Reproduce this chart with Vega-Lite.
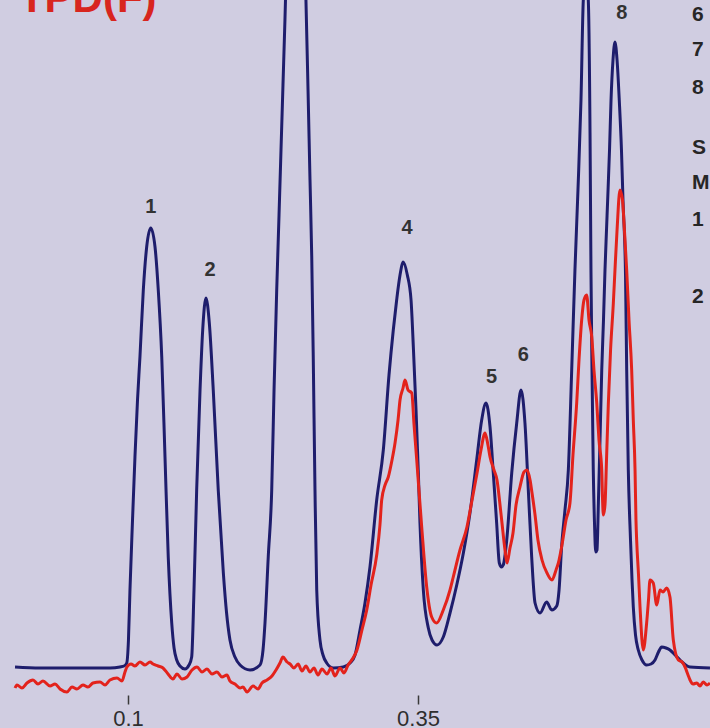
{
  "$schema": "https://vega.github.io/schema/vega-lite/v6.json",
  "width": 710,
  "height": 695,
  "autosize": {"type": "pad"},
  "padding": 0,
  "background": "#d0cde1",
  "config": {"view": {"stroke": null}},
  "datasets": {
    "traces": [
      {"trace":"UV","t":0.0026,"v":1},{"trace":"UV","t":0.0241,"v":0},{"trace":"UV","t":0.0586,"v":0},{"trace":"UV","t":0.0845,"v":0},{"trace":"UV","t":0.0931,"v":1},{"trace":"UV","t":0.0966,"v":2},{"trace":"UV","t":0.0989,"v":5},{"trace":"UV","t":0.1004,"v":28},{"trace":"UV","t":0.1017,"v":78},{"trace":"UV","t":0.1039,"v":148},{"trace":"UV","t":0.1060,"v":211},{"trace":"UV","t":0.1082,"v":268},{"trace":"UV","t":0.1103,"v":311},{"trace":"UV","t":0.1132,"v":378},{"trace":"UV","t":0.1161,"v":421},{"trace":"UV","t":0.1196,"v":440},{"trace":"UV","t":0.1233,"v":421},{"trace":"UV","t":0.1261,"v":378},{"trace":"UV","t":0.1291,"v":311},{"trace":"UV","t":0.1319,"v":211},{"trace":"UV","t":0.1347,"v":111},{"trace":"UV","t":0.1377,"v":45},{"trace":"UV","t":0.1397,"v":20},{"trace":"UV","t":0.1420,"v":8},{"trace":"UV","t":0.1448,"v":2},{"trace":"UV","t":0.1491,"v":-1},{"trace":"UV","t":0.1526,"v":3},{"trace":"UV","t":0.1549,"v":11},{"trace":"UV","t":0.1569,"v":78},{"trace":"UV","t":0.1592,"v":178},{"trace":"UV","t":0.1621,"v":278},{"trace":"UV","t":0.1644,"v":338},{"trace":"UV","t":0.1672,"v":370},{"trace":"UV","t":0.1701,"v":345},{"trace":"UV","t":0.1735,"v":278},{"trace":"UV","t":0.1778,"v":178},{"trace":"UV","t":0.1822,"v":95},{"trace":"UV","t":0.1849,"v":56},{"trace":"UV","t":0.1879,"v":28},{"trace":"UV","t":0.1922,"v":11},{"trace":"UV","t":0.1966,"v":3},{"trace":"UV","t":0.2052,"v":-2},{"trace":"UV","t":0.2138,"v":3},{"trace":"UV","t":0.2164,"v":18},{"trace":"UV","t":0.2181,"v":45},{"trace":"UV","t":0.2209,"v":111},{"trace":"UV","t":0.2239,"v":178},{"trace":"UV","t":0.2259,"v":278},{"trace":"UV","t":0.2282,"v":378},{"trace":"UV","t":0.2302,"v":453},{"trace":"UV","t":0.2319,"v":518},{"trace":"UV","t":0.2336,"v":583},{"trace":"UV","t":0.2353,"v":648},{"trace":"UV","t":0.2379,"v":758},{"trace":"UV","t":0.2448,"v":888},{"trace":"UV","t":0.2508,"v":768},{"trace":"UV","t":0.2534,"v":668},{"trace":"UV","t":0.2552,"v":578},{"trace":"UV","t":0.2569,"v":488},{"trace":"UV","t":0.2584,"v":411},{"trace":"UV","t":0.2597,"v":311},{"trace":"UV","t":0.2612,"v":178},{"trace":"UV","t":0.2627,"v":78},{"trace":"UV","t":0.2655,"v":28},{"trace":"UV","t":0.2681,"v":13},{"trace":"UV","t":0.2713,"v":5},{"trace":"UV","t":0.2770,"v":0},{"trace":"UV","t":0.2856,"v":1},{"trace":"UV","t":0.2914,"v":5},{"trace":"UV","t":0.2957,"v":13},{"trace":"UV","t":0.3000,"v":38},{"trace":"UV","t":0.3043,"v":65},{"trace":"UV","t":0.3086,"v":101},{"trace":"UV","t":0.3144,"v":168},{"trace":"UV","t":0.3201,"v":218},{"trace":"UV","t":0.3250,"v":293},{"trace":"UV","t":0.3287,"v":338},{"trace":"UV","t":0.3316,"v":368},{"trace":"UV","t":0.3345,"v":393},{"trace":"UV","t":0.3373,"v":406},{"trace":"UV","t":0.3408,"v":393},{"trace":"UV","t":0.3440,"v":368},{"trace":"UV","t":0.3461,"v":318},{"trace":"UV","t":0.3483,"v":258},{"trace":"UV","t":0.3503,"v":195},{"trace":"UV","t":0.3517,"v":145},{"trace":"UV","t":0.3546,"v":78},{"trace":"UV","t":0.3589,"v":40},{"trace":"UV","t":0.3621,"v":28},{"trace":"UV","t":0.3664,"v":23},{"trace":"UV","t":0.3718,"v":31},{"trace":"UV","t":0.3776,"v":55},{"trace":"UV","t":0.3834,"v":83},{"trace":"UV","t":0.3891,"v":115},{"trace":"UV","t":0.3948,"v":155},{"trace":"UV","t":0.4006,"v":208},{"trace":"UV","t":0.4049,"v":248},{"trace":"UV","t":0.4086,"v":265},{"trace":"UV","t":0.4121,"v":241},{"trace":"UV","t":0.4149,"v":195},{"trace":"UV","t":0.4178,"v":145},{"trace":"UV","t":0.4201,"v":105},{"trace":"UV","t":0.4220,"v":101},{"trace":"UV","t":0.4235,"v":103},{"trace":"UV","t":0.4265,"v":128},{"trace":"UV","t":0.4308,"v":195},{"trace":"UV","t":0.4351,"v":245},{"trace":"UV","t":0.4388,"v":278},{"trace":"UV","t":0.4422,"v":245},{"trace":"UV","t":0.4451,"v":178},{"trace":"UV","t":0.4480,"v":111},{"trace":"UV","t":0.4509,"v":65},{"trace":"UV","t":0.4552,"v":55},{"trace":"UV","t":0.4609,"v":66},{"trace":"UV","t":0.4653,"v":58},{"trace":"UV","t":0.4696,"v":62},{"trace":"UV","t":0.4716,"v":78},{"trace":"UV","t":0.4739,"v":123},{"trace":"UV","t":0.4767,"v":158},{"trace":"UV","t":0.4796,"v":198},{"trace":"UV","t":0.4825,"v":298},{"trace":"UV","t":0.4853,"v":398},{"trace":"UV","t":0.4879,"v":478},{"trace":"UV","t":0.4905,"v":568},{"trace":"UV","t":0.4925,"v":668},{"trace":"UV","t":0.4947,"v":693},{"trace":"UV","t":0.4968,"v":668},{"trace":"UV","t":0.4983,"v":535},{"trace":"UV","t":0.4991,"v":398},{"trace":"UV","t":0.5000,"v":298},{"trace":"UV","t":0.5011,"v":198},{"trace":"UV","t":0.5022,"v":143},{"trace":"UV","t":0.5032,"v":116},{"trace":"UV","t":0.5043,"v":118},{"trace":"UV","t":0.5055,"v":165},{"trace":"UV","t":0.5069,"v":228},{"trace":"UV","t":0.5084,"v":298},{"trace":"UV","t":0.5099,"v":348},{"trace":"UV","t":0.5112,"v":398},{"trace":"UV","t":0.5125,"v":438},{"trace":"UV","t":0.5135,"v":468},{"trace":"UV","t":0.5151,"v":518},{"trace":"UV","t":0.5164,"v":568},{"trace":"UV","t":0.5181,"v":608},{"trace":"UV","t":0.5198,"v":626},{"trace":"UV","t":0.5216,"v":608},{"trace":"UV","t":0.5235,"v":568},{"trace":"UV","t":0.5254,"v":518},{"trace":"UV","t":0.5267,"v":468},{"trace":"UV","t":0.5289,"v":393},{"trace":"UV","t":0.5299,"v":298},{"trace":"UV","t":0.5313,"v":198},{"trace":"UV","t":0.5332,"v":128},{"trace":"UV","t":0.5345,"v":88},{"trace":"UV","t":0.5356,"v":61},{"trace":"UV","t":0.5375,"v":33},{"trace":"UV","t":0.5399,"v":18},{"trace":"UV","t":0.5431,"v":8},{"trace":"UV","t":0.5471,"v":3},{"trace":"UV","t":0.5509,"v":4},{"trace":"UV","t":0.5543,"v":8},{"trace":"UV","t":0.5573,"v":16},{"trace":"UV","t":0.5601,"v":21},{"trace":"UV","t":0.5638,"v":20},{"trace":"UV","t":0.5672,"v":18},{"trace":"UV","t":0.5716,"v":13},{"trace":"UV","t":0.5759,"v":8},{"trace":"UV","t":0.5845,"v":1},{"trace":"UV","t":0.6017,"v":0},
      {"trace":"FL","t":0.0026,"v":-20},{"trace":"FL","t":0.0043,"v":-17},{"trace":"FL","t":0.0086,"v":-20},{"trace":"FL","t":0.0129,"v":-15},{"trace":"FL","t":0.0181,"v":-12},{"trace":"FL","t":0.0224,"v":-16},{"trace":"FL","t":0.0267,"v":-13},{"trace":"FL","t":0.0328,"v":-18},{"trace":"FL","t":0.0371,"v":-16},{"trace":"FL","t":0.0414,"v":-21},{"trace":"FL","t":0.0474,"v":-24},{"trace":"FL","t":0.0517,"v":-19},{"trace":"FL","t":0.0560,"v":-21},{"trace":"FL","t":0.0612,"v":-17},{"trace":"FL","t":0.0655,"v":-19},{"trace":"FL","t":0.0698,"v":-15},{"trace":"FL","t":0.0759,"v":-14},{"trace":"FL","t":0.0802,"v":-17},{"trace":"FL","t":0.0845,"v":-12},{"trace":"FL","t":0.0905,"v":-10},{"trace":"FL","t":0.0948,"v":-13},{"trace":"FL","t":0.0974,"v":-4},{"trace":"FL","t":0.0991,"v":1},{"trace":"FL","t":0.1026,"v":4},{"trace":"FL","t":0.1060,"v":2},{"trace":"FL","t":0.1103,"v":6},{"trace":"FL","t":0.1147,"v":3},{"trace":"FL","t":0.1190,"v":6},{"trace":"FL","t":0.1216,"v":4},{"trace":"FL","t":0.1259,"v":2},{"trace":"FL","t":0.1302,"v":0},{"trace":"FL","t":0.1345,"v":-6},{"trace":"FL","t":0.1388,"v":-11},{"trace":"FL","t":0.1422,"v":-6},{"trace":"FL","t":0.1466,"v":-11},{"trace":"FL","t":0.1509,"v":-9},{"trace":"FL","t":0.1552,"v":-2},{"trace":"FL","t":0.1595,"v":1},{"trace":"FL","t":0.1638,"v":-4},{"trace":"FL","t":0.1681,"v":-1},{"trace":"FL","t":0.1724,"v":-6},{"trace":"FL","t":0.1767,"v":-4},{"trace":"FL","t":0.1810,"v":-9},{"trace":"FL","t":0.1853,"v":-7},{"trace":"FL","t":0.1879,"v":-13},{"trace":"FL","t":0.1922,"v":-16},{"trace":"FL","t":0.1966,"v":-20},{"trace":"FL","t":0.1991,"v":-19},{"trace":"FL","t":0.2026,"v":-24},{"trace":"FL","t":0.2078,"v":-18},{"trace":"FL","t":0.2121,"v":-21},{"trace":"FL","t":0.2155,"v":-15},{"trace":"FL","t":0.2198,"v":-12},{"trace":"FL","t":0.2241,"v":-8},{"trace":"FL","t":0.2276,"v":-2},{"trace":"FL","t":0.2310,"v":5},{"trace":"FL","t":0.2336,"v":11},{"trace":"FL","t":0.2371,"v":6},{"trace":"FL","t":0.2397,"v":4},{"trace":"FL","t":0.2431,"v":0},{"trace":"FL","t":0.2466,"v":4},{"trace":"FL","t":0.2500,"v":-3},{"trace":"FL","t":0.2534,"v":2},{"trace":"FL","t":0.2569,"v":-4},{"trace":"FL","t":0.2603,"v":0},{"trace":"FL","t":0.2638,"v":-7},{"trace":"FL","t":0.2672,"v":-1},{"trace":"FL","t":0.2716,"v":-6},{"trace":"FL","t":0.2750,"v":0},{"trace":"FL","t":0.2784,"v":-8},{"trace":"FL","t":0.2828,"v":0},{"trace":"FL","t":0.2862,"v":-5},{"trace":"FL","t":0.2897,"v":3},{"trace":"FL","t":0.2940,"v":10},{"trace":"FL","t":0.2974,"v":18},{"trace":"FL","t":0.3017,"v":38},{"trace":"FL","t":0.3058,"v":58},{"trace":"FL","t":0.3095,"v":83},{"trace":"FL","t":0.3144,"v":113},{"trace":"FL","t":0.3172,"v":143},{"trace":"FL","t":0.3187,"v":168},{"trace":"FL","t":0.3216,"v":183},{"trace":"FL","t":0.3244,"v":191},{"trace":"FL","t":0.3276,"v":208},{"trace":"FL","t":0.3302,"v":225},{"trace":"FL","t":0.3328,"v":248},{"trace":"FL","t":0.3345,"v":268},{"trace":"FL","t":0.3371,"v":280},{"trace":"FL","t":0.3388,"v":288},{"trace":"FL","t":0.3414,"v":278},{"trace":"FL","t":0.3446,"v":275},{"trace":"FL","t":0.3466,"v":243},{"trace":"FL","t":0.3489,"v":208},{"trace":"FL","t":0.3532,"v":141},{"trace":"FL","t":0.3575,"v":81},{"trace":"FL","t":0.3618,"v":51},{"trace":"FL","t":0.3661,"v":45},{"trace":"FL","t":0.3718,"v":58},{"trace":"FL","t":0.3776,"v":78},{"trace":"FL","t":0.3804,"v":91},{"trace":"FL","t":0.3862,"v":118},{"trace":"FL","t":0.3922,"v":141},{"trace":"FL","t":0.3966,"v":168},{"trace":"FL","t":0.4009,"v":195},{"trace":"FL","t":0.4043,"v":218},{"trace":"FL","t":0.4078,"v":235},{"trace":"FL","t":0.4103,"v":223},{"trace":"FL","t":0.4121,"v":211},{"trace":"FL","t":0.4155,"v":198},{"trace":"FL","t":0.4181,"v":188},{"trace":"FL","t":0.4207,"v":163},{"trace":"FL","t":0.4224,"v":145},{"trace":"FL","t":0.4250,"v":118},{"trace":"FL","t":0.4267,"v":105},{"trace":"FL","t":0.4293,"v":120},{"trace":"FL","t":0.4319,"v":135},{"trace":"FL","t":0.4345,"v":163},{"trace":"FL","t":0.4379,"v":181},{"trace":"FL","t":0.4414,"v":196},{"trace":"FL","t":0.4440,"v":198},{"trace":"FL","t":0.4466,"v":188},{"trace":"FL","t":0.4483,"v":175},{"trace":"FL","t":0.4509,"v":153},{"trace":"FL","t":0.4534,"v":128},{"trace":"FL","t":0.4569,"v":108},{"trace":"FL","t":0.4612,"v":95},{"trace":"FL","t":0.4655,"v":88},{"trace":"FL","t":0.4690,"v":98},{"trace":"FL","t":0.4710,"v":105},{"trace":"FL","t":0.4741,"v":123},{"trace":"FL","t":0.4776,"v":148},{"trace":"FL","t":0.4810,"v":165},{"trace":"FL","t":0.4836,"v":213},{"trace":"FL","t":0.4868,"v":265},{"trace":"FL","t":0.4888,"v":308},{"trace":"FL","t":0.4911,"v":348},{"trace":"FL","t":0.4931,"v":368},{"trace":"FL","t":0.4954,"v":373},{"trace":"FL","t":0.4974,"v":348},{"trace":"FL","t":0.4998,"v":331},{"trace":"FL","t":0.5017,"v":298},{"trace":"FL","t":0.5041,"v":265},{"trace":"FL","t":0.5060,"v":228},{"trace":"FL","t":0.5084,"v":198},{"trace":"FL","t":0.5091,"v":168},{"trace":"FL","t":0.5098,"v":153},{"trace":"FL","t":0.5112,"v":163},{"trace":"FL","t":0.5125,"v":208},{"trace":"FL","t":0.5141,"v":265},{"trace":"FL","t":0.5160,"v":318},{"trace":"FL","t":0.5184,"v":365},{"trace":"FL","t":0.5198,"v":398},{"trace":"FL","t":0.5216,"v":438},{"trace":"FL","t":0.5241,"v":478},{"trace":"FL","t":0.5263,"v":468},{"trace":"FL","t":0.5276,"v":445},{"trace":"FL","t":0.5299,"v":398},{"trace":"FL","t":0.5319,"v":348},{"trace":"FL","t":0.5342,"v":298},{"trace":"FL","t":0.5356,"v":248},{"trace":"FL","t":0.5371,"v":198},{"trace":"FL","t":0.5379,"v":148},{"trace":"FL","t":0.5385,"v":128},{"trace":"FL","t":0.5401,"v":93},{"trace":"FL","t":0.5414,"v":61},{"trace":"FL","t":0.5442,"v":18},{"trace":"FL","t":0.5471,"v":45},{"trace":"FL","t":0.5487,"v":68},{"trace":"FL","t":0.5500,"v":88},{"trace":"FL","t":0.5528,"v":85},{"trace":"FL","t":0.5558,"v":63},{"trace":"FL","t":0.5586,"v":78},{"trace":"FL","t":0.5612,"v":76},{"trace":"FL","t":0.5644,"v":80},{"trace":"FL","t":0.5672,"v":71},{"trace":"FL","t":0.5701,"v":28},{"trace":"FL","t":0.5744,"v":8},{"trace":"FL","t":0.5776,"v":6},{"trace":"FL","t":0.5802,"v":1},{"trace":"FL","t":0.5828,"v":-7},{"trace":"FL","t":0.5845,"v":-12},{"trace":"FL","t":0.5871,"v":-16},{"trace":"FL","t":0.5903,"v":-15},{"trace":"FL","t":0.5931,"v":-18},{"trace":"FL","t":0.5959,"v":-14},{"trace":"FL","t":0.5991,"v":-17},{"trace":"FL","t":0.6017,"v":-15}
    ],
    "peaks": [
      {"t":0.1196,"v":461,"label":"1"},
      {"t":0.1707,"v":398,"label":"2"},
      {"t":0.3405,"v":440,"label":"4"},
      {"t":0.4135,"v":291,"label":"5"},
      {"t":0.4408,"v":313,"label":"6"},
      {"t":0.5256,"v":655,"label":"8"}
    ],
    "side": [
      {"t":0.5862,"v":653,"label":"6"},
      {"t":0.5862,"v":618,"label":"7"},
      {"t":0.5862,"v":580,"label":"8"},
      {"t":0.5862,"v":520,"label":"S"},
      {"t":0.5862,"v":485,"label":"M"},
      {"t":0.5862,"v":448,"label":"1"},
      {"t":0.5862,"v":371,"label":"2"}
    ],
    "title": [
      {"t":0.0060,"v":656,"label":"TPD(F)"}
    ]
  },
  "encoding": {
    "x": {
      "field": "t", "type": "quantitative",
      "scale": {"domain": [-0.01034, 0.60172], "nice": false, "zero": false},
      "axis": {
        "title": null, "values": [0.1, 0.35], "format": ".2~f",
        "domain": false, "grid": false,
        "tickSize": 9, "tickWidth": 1.5, "tickColor": "#3a3a3a",
        "labelFontSize": 22, "labelFont": "Liberation Sans", "labelColor": "#2e2e2e",
        "labelPadding": 4
      }
    },
    "y": {
      "field": "v", "type": "quantitative",
      "scale": {"domain": [-27, 668], "nice": false, "zero": false},
      "axis": null
    }
  },
  "layer": [
    {
      "data": {"name": "traces"},
      "mark": {"type": "line", "interpolate": "monotone", "strokeWidth": 3, "clip": true},
      "encoding": {
        "color": {
          "field": "trace", "type": "nominal",
          "scale": {"domain": ["UV", "FL"], "range": ["#1e1d6c", "#e3231c"]},
          "legend": null
        },
        "order": {"field": "t"}
      }
    },
    {
      "data": {"name": "peaks"},
      "mark": {"type": "text", "font": "Liberation Sans", "fontSize": 20, "fontWeight": "bold", "color": "#333333", "align": "center", "baseline": "middle"},
      "encoding": {"text": {"field": "label"}}
    },
    {
      "data": {"name": "side"},
      "mark": {"type": "text", "font": "Liberation Sans", "fontSize": 21, "fontWeight": "bold", "color": "#262626", "align": "left", "baseline": "middle", "clip": true},
      "encoding": {"text": {"field": "label"}}
    },
    {
      "data": {"name": "title"},
      "mark": {"type": "text", "font": "Liberation Sans", "fontSize": 42, "fontWeight": "bold", "color": "#d8251e", "align": "left", "baseline": "alphabetic", "clip": true},
      "encoding": {"text": {"field": "label"}}
    }
  ]
}
